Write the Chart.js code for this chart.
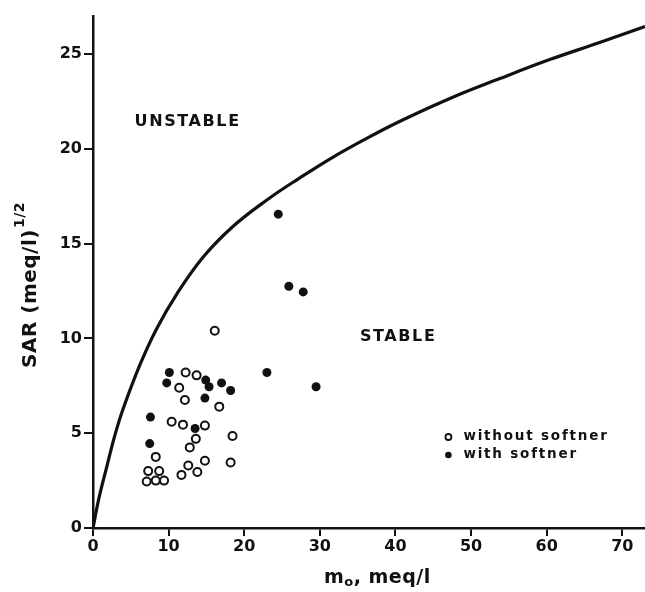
<!DOCTYPE html>
<html>
<head>
<meta charset="utf-8">
<script src="https://cdn.jsdelivr.net/npm/chart.js@4/dist/chart.umd.min.js"></script>
<style>
html,body{margin:0;padding:0;background:#fff;overflow:hidden}
#wrap{width:645px;height:592px}
canvas{display:block}
</style>
</head>
<body>
<div id="wrap"><canvas id="c" width="645" height="592"></canvas></div>
<script>
// boundary curve
const curveX=[0,0.8,1.8,2.9,4.0,6.2,8.4,11.1,14.6,18.5,23.0,27.3,31.7,36.2,40.6,47.2,53.8,60.4,67.0,73];
const curveY=[0,1.6,3.2,4.9,6.3,8.6,10.5,12.35,14.3,15.9,17.3,18.45,19.55,20.55,21.45,22.65,23.7,24.7,25.6,26.45];
// samples without softner (open)
const openX=[12.25,13.7,11.4,12.15,16.7,10.4,11.9,14.8,13.6,12.8,18.45,8.3,14.8,12.6,18.2,13.8,11.7,7.3,8.75,7.1,8.3,9.4,16.1];
const openY=[8.2,8.05,7.4,6.75,6.4,5.6,5.45,5.4,4.7,4.25,4.85,3.75,3.55,3.3,3.45,2.95,2.8,3.0,3.0,2.45,2.5,2.5,10.4];
// samples with softner (filled)
const fillX=[10.1,9.75,14.9,15.35,17.0,18.2,14.8,7.6,13.5,7.5,24.5,25.9,27.8,23.0,29.5];
const fillY=[8.2,7.65,7.8,7.45,7.65,7.25,6.85,5.85,5.25,4.45,16.55,12.75,12.45,8.2,7.45];
const xTicks=[0,10,20,30,40,50,60,70];
const yTicks=[0,5,10,15,20,25];

const pts=(xs,ys)=>xs.map((x,i)=>({x,y:ys[i]}));
const FONT='"DejaVu Sans", sans-serif';

const textPlugin={id:"texts",afterDraw(ch){
  const c=ch.ctx,xs=ch.scales.x,ys=ch.scales.y;
  c.save();c.fillStyle="#111";c.textBaseline="middle";c.textAlign="left";
  c.font="bold 16px "+FONT;c.letterSpacing="1.6px";
  c.fillText("UNSTABLE",xs.getPixelForValue(5.5),ys.getPixelForValue(21.4));
  c.fillText("STABLE",xs.getPixelForValue(35.3),ys.getPixelForValue(10.1));
  // legend
  c.font="bold 13.5px "+FONT;c.letterSpacing="1.8px";
  const lx=xs.getPixelForValue(47),l1=ys.getPixelForValue(4.8),l2=ys.getPixelForValue(3.85);
  c.lineWidth=1.8;c.strokeStyle="#111";
  c.beginPath();c.arc(lx,l1,3,0,Math.PI*2);c.stroke();
  c.beginPath();c.arc(lx,l2,3.3,0,Math.PI*2);c.fill();
  c.fillText("without softner",lx+15,l1);
  c.fillText("with softner",lx+15,l2);
  c.letterSpacing="0.5px";
  // x title  m_o, meq/l
  c.font="bold 19px "+FONT;
  let tx=324,ty=578;
  c.fillText("m",tx,ty);tx+=c.measureText("m").width;
  c.font="bold 13px "+FONT;c.fillText("o",tx,ty+5);tx+=c.measureText("o").width;
  c.font="bold 19px "+FONT;c.fillText(", meq/l",tx,ty);
  // y title  SAR (meq/l)^1/2
  c.translate(31,368);c.rotate(-Math.PI/2);
  c.font="bold 20px "+FONT;c.fillText("SAR (meq/l)",0,0);
  const w=c.measureText("SAR (meq/l)").width;
  c.font="bold 14px "+FONT;c.fillText("1/2",w+1,-11);
  c.restore();
}};

new Chart(document.getElementById("c"),{
  type:"scatter",
  data:{datasets:[
    {label:"boundary",data:pts(curveX,curveY),showLine:true,borderColor:"#111",borderWidth:3.2,pointRadius:0,tension:0.4,fill:false},
    {label:"without softner",data:pts(openX,openY),pointRadius:4,pointBorderWidth:2,pointBackgroundColor:"#fff",pointBorderColor:"#111",borderColor:"#111",backgroundColor:"#fff"},
    {label:"with softner",data:pts(fillX,fillY),pointRadius:4.5,pointBorderWidth:0,pointBackgroundColor:"#111",borderColor:"#111",backgroundColor:"#111"}
  ]},
  options:{
    responsive:false,animation:false,
    layout:{autoPadding:false,padding:{top:16,right:0,left:0,bottom:0}},
    plugins:{legend:{display:false},tooltip:{enabled:false}},
    scales:{
      x:{type:"linear",min:0,max:73,
        afterBuildTicks:s=>{s.ticks=xTicks.map(v=>({value:v}))},
        afterFit:s=>{s.height=64},
        border:{display:true,color:"#111",width:2.5},
        grid:{display:true,drawOnChartArea:false,drawTicks:true,tickLength:8,color:"#111",lineWidth:2},
        ticks:{color:"#111",padding:1,font:{family:FONT,size:16,weight:"bold"},maxRotation:0}},
      y:{type:"linear",min:0,max:27,
        afterBuildTicks:s=>{s.ticks=yTicks.map(v=>({value:v}))},
        afterFit:s=>{s.width=93},
        border:{display:true,color:"#111",width:2.5},
        grid:{display:true,drawOnChartArea:false,drawTicks:true,tickLength:9,color:"#111",lineWidth:2},
        ticks:{color:"#111",padding:2,font:{family:FONT,size:16,weight:"bold"}}}
    }
  },
  plugins:[textPlugin]
});
</script>
</body>
</html>
